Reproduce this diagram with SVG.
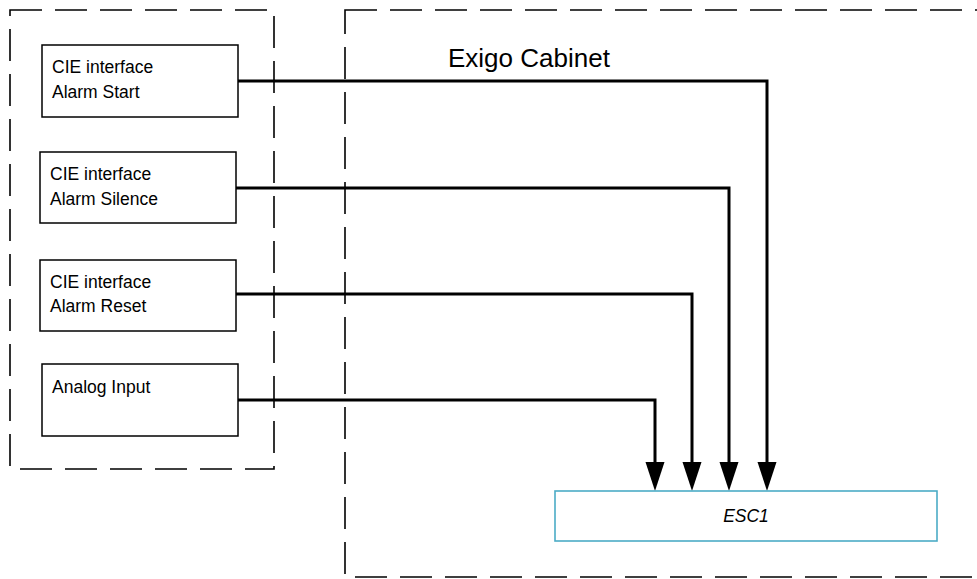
<svg xmlns="http://www.w3.org/2000/svg" width="977" height="579" viewBox="0 0 977 579">
  <style>
    .dash { fill: none; stroke: #000; stroke-width: 1.6; stroke-dasharray: 32 13; }
    .box { fill: #fff; stroke: #000; stroke-width: 1.5; }
    .esc { fill: #fff; stroke: #4bacc6; stroke-width: 1.6; }
    .lbl { font-family: "Liberation Sans", Arial, sans-serif; font-size: 17.5px; fill: #000; }
    .title { font-family: "Liberation Sans", Arial, sans-serif; font-size: 26px; fill: #000; }
    .conn { fill: none; stroke: #000; stroke-width: 3; }
  </style>
  <defs>
    <marker id="arrow" markerUnits="userSpaceOnUse" markerWidth="30" markerHeight="20" viewBox="0 -10 30 20" refX="0" refY="0" orient="auto">
      <path d="M0,-9.5 L29,0 L0,9.5 Z" fill="#000"/>
    </marker>
  </defs>
  <rect width="977" height="579" fill="#fff"/>

  <g id="group-left">
    <rect class="dash" x="10" y="10" width="264" height="459"/>
  </g>
  <g id="group-cabinet">
    <rect class="dash" x="345" y="10" width="660" height="567"/>
    <text class="title" x="448" y="67">Exigo Cabinet</text>
  </g>

  <g id="connectors">
    <polyline class="conn" points="238,81 767,81 767,462" marker-end="url(#arrow)"/>
    <polyline class="conn" points="236,188 729,188 729,462" marker-end="url(#arrow)"/>
    <polyline class="conn" points="236,294 692,294 692,462" marker-end="url(#arrow)"/>
    <polyline class="conn" points="238,400 655,400 655,462" marker-end="url(#arrow)"/>
  </g>

  <g id="node-alarm-start">
    <rect class="box" x="42" y="45" width="196" height="72"/>
    <text class="lbl" x="52" y="73">CIE interface</text>
    <text class="lbl" x="52" y="98">Alarm Start</text>
  </g>
  <g id="node-alarm-silence">
    <rect class="box" x="40" y="152" width="196" height="71"/>
    <text class="lbl" x="50" y="180">CIE interface</text>
    <text class="lbl" x="50" y="205">Alarm Silence</text>
  </g>
  <g id="node-alarm-reset">
    <rect class="box" x="40" y="260" width="196" height="71"/>
    <text class="lbl" x="50" y="288">CIE interface</text>
    <text class="lbl" x="50" y="312">Alarm Reset</text>
  </g>
  <g id="node-analog-input">
    <rect class="box" x="42" y="364" width="196" height="72"/>
    <text class="lbl" x="52" y="393">Analog Input</text>
  </g>
  <g id="node-esc1">
    <rect class="esc" x="555" y="491" width="382" height="50"/>
    <text class="lbl" x="746" y="522" text-anchor="middle" font-style="italic">ESC1</text>
  </g>
</svg>
